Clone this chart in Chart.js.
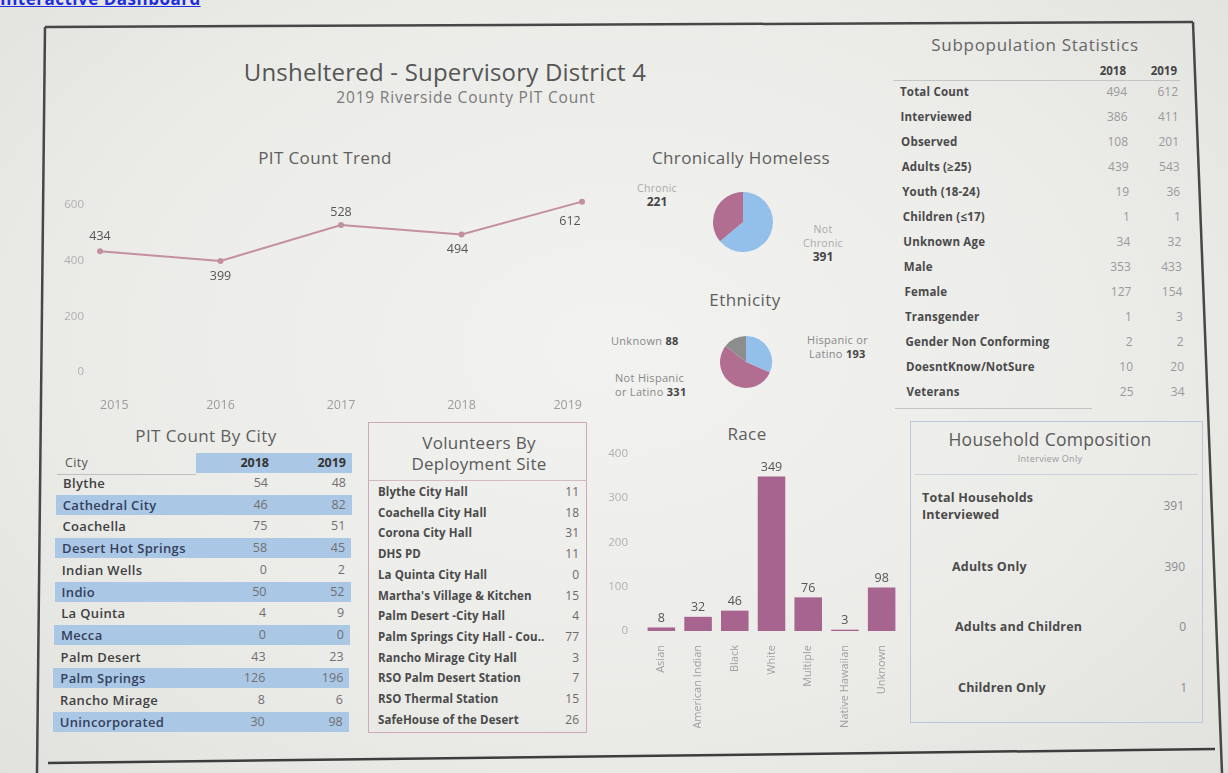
<!DOCTYPE html>
<html>
<head>
<meta charset="utf-8">
<script src="https://cdn.jsdelivr.net/npm/chart.js@4.4.1/dist/chart.umd.min.js"></script>
<style>
  html, body { margin: 0; padding: 0; }
  body {
    width: 1228px; height: 773px; overflow: hidden; position: relative;
    background: radial-gradient(ellipse at 50% 45%, #f2f2f0 0%, #ebebe8 60%, #e1e1de 100%);
    font-family: 'Open Sans', 'Noto Sans', sans-serif;
  }
  .t { position: absolute; white-space: nowrap; line-height: 1; }
  .c { transform: translate(-50%, -50%); }
  .l { transform: translate(0, -50%); }
  .r { transform: translate(-100%, -50%); }
  .box { position: absolute; box-sizing: border-box; }
  canvas { position: absolute; }
  #link { position: absolute; left: 0; top: -13px; color: #1f2fe0; font-weight: 700;
          font-size: 17px; text-decoration: underline; letter-spacing: 0.5px; }
</style>
</head>
<body>
<div id="link">Interactive Dashboard</div>
<svg width="1228" height="773" style="position:absolute;left:0;top:0">
  <line x1="45" y1="27" x2="1193" y2="22" stroke="#474747" stroke-width="2.5"/>
  <line x1="45" y1="27" x2="37" y2="773" stroke="#474747" stroke-width="2.5"/>
  <line x1="1193" y1="22" x2="1222" y2="773" stroke="#474747" stroke-width="2.5"/>
  <line x1="48" y1="763" x2="1215" y2="749" stroke="#3d3d3d" stroke-width="2.5"/>
</svg>
<div id="root"></div>
<canvas id="trend" width="560" height="225" style="left:40px;top:185px"></canvas>
<canvas id="chronic" width="62" height="62" style="left:712px;top:191px"></canvas>
<canvas id="ethnic" width="54" height="54" style="left:719px;top:335px"></canvas>
<canvas id="race" width="305" height="288" style="left:600px;top:440px"></canvas>
<script>
// values
const years = ['2015', '2016', '2017', '2018', '2019'];
const pitTotals = [434, 399, 528, 494, 612];

const chronicLabels = ['Not Chronic', 'Chronic'];
const chronicValues = [391, 221];

const ethnicityLabels = ['Hispanic or Latino', 'Not Hispanic or Latino', 'Unknown'];
const ethnicityValues = [193, 331, 88];

const raceLabels = ['Asian', 'American Indian', 'Black', 'White', 'Multiple', 'Native Hawaiian', 'Unknown'];
const raceValues = [8, 32, 46, 349, 76, 3, 98];

const cityNames = ['Blythe', 'Cathedral City', 'Coachella', 'Desert Hot Springs', 'Indian Wells', 'Indio',
  'La Quinta', 'Mecca', 'Palm Desert', 'Palm Springs', 'Rancho Mirage', 'Unincorporated'];
const city2018 = [54, 46, 75, 58, 0, 50, 4, 0, 43, 126, 8, 30];
const city2019 = [48, 82, 51, 45, 2, 52, 9, 0, 23, 196, 6, 98];

const siteNames = ['Blythe City Hall', 'Coachella City Hall', 'Corona City Hall', 'DHS PD', 'La Quinta City Hall',
  "Martha's Village & Kitchen", 'Palm Desert -City Hall', 'Palm Springs City Hall - Cou..',
  'Rancho Mirage City Hall', 'RSO Palm Desert Station', 'RSO Thermal Station', 'SafeHouse of the Desert'];
const siteVolunteers = [11, 18, 31, 11, 0, 15, 4, 77, 3, 7, 15, 26];

const subpopLabels = ['Total Count', 'Interviewed', 'Observed', 'Adults (\u226525)', 'Youth (18-24)', 'Children (\u226417)',
  'Unknown Age', 'Male', 'Female', 'Transgender', 'Gender Non Conforming', 'DoesntKnow/NotSure', 'Veterans'];
const subpop2018 = [494, 386, 108, 439, 19, 1, 34, 353, 127, 1, 2, 10, 25];
const subpop2019 = [612, 411, 201, 543, 36, 1, 32, 433, 154, 3, 2, 20, 34];

const householdLabels = [['Total Households', 'Interviewed'], ['Adults Only'], ['Adults and Children'], ['Children Only']];
const householdValues = [391, 390, 0, 1];

const MAUVE = '#b26e91';
const BLUE = '#92c0ea';
const GREY = '#8d8d8d';

const root = document.getElementById('root');
function txt(x, y, s, align, css) {
  const d = document.createElement('div');
  d.className = 't ' + (align || 'c');
  d.style.left = x + 'px';
  d.style.top = y + 'px';
  d.style.cssText += css || '';
  d.textContent = s;
  root.appendChild(d);
  return d;
}
function box(x, y, w, h, css) {
  const d = document.createElement('div');
  d.className = 'box';
  d.style.cssText = `left:${x}px;top:${y}px;width:${w}px;height:${h}px;` + (css || '');
  root.appendChild(d);
  return d;
}

const titleCss = 'font-size:17px;letter-spacing:0.4px;color:#5e5e5e;';

// header
txt(445, 72, 'Unsheltered - Supervisory District 4', 'c', 'font-size:24px;letter-spacing:0.2px;color:#555;');
txt(466, 98, '2019 Riverside County PIT Count', 'c', 'font-size:15.5px;letter-spacing:0.8px;color:#7a7a7a;');
txt(325, 157, 'PIT Count Trend', 'c', titleCss);
txt(741, 157, 'Chronically Homeless', 'c', titleCss);
txt(745, 299, 'Ethnicity', 'c', titleCss);
txt(747, 433, 'Race', 'c', titleCss);

// pie annotations
const small = 'font-size:10.5px;letter-spacing:0.3px;color:#aaa;';
const bold = 'font-size:12px;font-weight:700;color:#444;';
txt(657, 188, 'Chronic', 'c', small);
txt(657, 202, String(chronicValues[1]), 'c', bold);
txt(823, 229, 'Not', 'c', small);
txt(823, 243, 'Chronic', 'c', small);
txt(823, 257, String(chronicValues[0]), 'c', bold);
const ethLbl = 'font-size:11px;letter-spacing:0.3px;color:#888;';
txt(611, 340, '', 'l', ethLbl).innerHTML = `Unknown <b style="color:#444">${ethnicityValues[2]}</b>`;
txt(807, 339, 'Hispanic or', 'l', ethLbl);
txt(809, 353, '', 'l', ethLbl).innerHTML = `Latino <b style="color:#444">${ethnicityValues[0]}</b>`;
txt(615, 377, 'Not Hispanic', 'l', ethLbl);
txt(615, 391, '', 'l', ethLbl).innerHTML = `or Latino <b style="color:#444">${ethnicityValues[1]}</b>`;

// subpopulation statistics
txt(1035, 44, 'Subpopulation Statistics', 'c', 'font-size:17px;letter-spacing:0.7px;color:#666;');
txt(1126, 71, '2018', 'r', 'font-size:11.5px;font-weight:700;color:#444;');
txt(1177, 71, '2019', 'r', 'font-size:11.5px;font-weight:700;color:#444;');
box(893, 80, 287, 1, 'background:#c4c4c4;');
subpopLabels.forEach((lab, i) => {
  const y = 92 + i * 25;
  const dx = i * 0.55;
  txt(900 + dx, y, lab, 'l', 'font-size:11.5px;letter-spacing:0.2px;font-weight:700;color:#4a4a4a;');
  txt(1127 + dx, y, String(subpop2018[i]), 'r', 'font-size:12px;color:#9a9a9a;');
  txt(1178 + dx, y, String(subpop2019[i]), 'r', 'font-size:12px;color:#9a9a9a;');
});
box(895, 408, 197, 1, 'background:#c4c4c4;');

// PIT count by city
txt(206, 435, 'PIT Count By City', 'c', titleCss);
box(196, 453, 156, 20, 'background:#abc7e6;');
box(57, 474, 139, 1, 'background:#c0c0c0;');
txt(65, 463, 'City', 'l', 'font-size:12.5px;letter-spacing:0.3px;color:#555;');
txt(269, 463, '2018', 'r', 'font-size:12.5px;font-weight:700;color:#333;');
txt(346, 463, '2019', 'r', 'font-size:12.5px;font-weight:700;color:#333;');
cityNames.forEach((name, i) => {
  const y = 483 + i * 21.7;
  const dx = -i * 0.3;
  if (i % 2 === 1) box(56 + dx, y - 10, 296, 20, 'background:#abc7e6;');
  txt(63 + dx, y, name, 'l', 'font-size:13px;letter-spacing:0.35px;font-weight:600;color:' + (i % 2 ? '#33405a' : '#3f3f3f') + ';');
  txt(268 + dx, y, String(city2018[i]), 'r', 'font-size:12.5px;color:#707070;');
  txt(346 + dx, y, String(city2019[i]), 'r', 'font-size:12.5px;color:#707070;');
});

// volunteers by deployment site
box(368, 422, 219, 311, 'border:1.5px solid #cfa8b9;');
box(369, 480, 217, 1, 'background:#d3b9c4;');
txt(479, 442, 'Volunteers By', 'c', 'font-size:17px;letter-spacing:0.3px;color:#5a5a5a;');
txt(479, 463, 'Deployment Site', 'c', 'font-size:17px;letter-spacing:0.3px;color:#5a5a5a;');
siteNames.forEach((name, i) => {
  const y = 492 + i * 20.7;
  txt(378, y, name, 'l', 'font-size:11.5px;letter-spacing:0.1px;font-weight:700;color:#4a4a4a;');
  txt(579, y, String(siteVolunteers[i]), 'r', 'font-size:12px;color:#6a6a6a;');
});

// household composition
box(910, 421, 293, 302, 'border:1.5px solid #bac6dc;');
box(915, 474, 283, 1, 'background:#c8d0dd;');
txt(1050, 440, 'Household Composition', 'c', 'font-size:17.5px;letter-spacing:0.3px;color:#5a5a5a;');
txt(1050, 458, 'Interview Only', 'c', 'font-size:9px;letter-spacing:0.3px;color:#9a9a9a;');
const hhRows = [{ x: 922, y: 506 }, { x: 952, y: 567 }, { x: 955, y: 627 }, { x: 958, y: 688 }];
householdLabels.forEach((lines, i) => {
  const p = hhRows[i];
  lines.forEach((ln, k) => {
    const yy = lines.length > 1 ? p.y - 8.5 + k * 17 : p.y;
    txt(p.x, yy, ln, 'l', 'font-size:12.5px;letter-spacing:0.2px;font-weight:700;color:#4a4a4a;');
  });
  txt(1184 + i, p.y, String(householdValues[i]), 'r', 'font-size:12px;color:#8a8a8a;');
});

// charts
Chart.defaults.font.family = "'Open Sans', 'Noto Sans', sans-serif";
Chart.defaults.animation = false;
Chart.defaults.plugins.legend.display = false;
Chart.defaults.plugins.tooltip.enabled = false;

const trendLabels = {
  id: 'trendLabels',
  afterDatasetsDraw(chart) {
    const offs = [[0, -15], [0, 15], [0, -13], [-4, 15], [-12, 20]];
    const ctx = chart.ctx;
    ctx.save();
    ctx.font = "12.5px 'Open Sans'";
    ctx.fillStyle = '#555';
    ctx.textAlign = 'center';
    ctx.textBaseline = 'middle';
    chart.getDatasetMeta(0).data.forEach((pt, i) => {
      ctx.fillText(String(pitTotals[i]), pt.x + offs[i][0], pt.y + offs[i][1]);
    });
    ctx.restore();
  }
};

new Chart(document.getElementById('trend'), {
  type: 'line',
  data: {
    labels: years,
    datasets: [{
      data: pitTotals, borderColor: '#c3909f', backgroundColor: '#c3909f',
      borderWidth: 2, pointRadius: 2, tension: 0, clip: false
    }]
  },
  options: {
    responsive: false,
    layout: { padding: { top: 20, right: 13 } },
    scales: {
      x: {
        grid: { display: false }, border: { display: false },
        ticks: { align: 'inner', padding: 18, color: '#9c9c9c', font: { size: 12.5 } },
        afterFit: s => { s.height = 38; }
      },
      y: {
        min: 0, max: 600,
        grid: { display: false }, border: { display: false },
        ticks: { stepSize: 200, padding: 8, color: '#b0b0b0', font: { size: 11.5 } },
        afterFit: s => { s.width = 60; }
      }
    }
  },
  plugins: [trendLabels]
});

new Chart(document.getElementById('chronic'), {
  type: 'pie',
  data: { labels: chronicLabels, datasets: [{ data: chronicValues, backgroundColor: [BLUE, MAUVE], borderWidth: 0 }] },
  options: { responsive: false, layout: { padding: 1 } }
});

new Chart(document.getElementById('ethnic'), {
  type: 'pie',
  data: { labels: ethnicityLabels, datasets: [{ data: ethnicityValues, backgroundColor: [BLUE, MAUVE, GREY], borderWidth: 0 }] },
  options: { responsive: false, layout: { padding: 1 } }
});

const raceValueLabels = {
  id: 'raceValueLabels',
  afterDatasetsDraw(chart) {
    const ctx = chart.ctx;
    ctx.save();
    ctx.font = "12.5px 'Open Sans'";
    ctx.fillStyle = '#555';
    ctx.textAlign = 'center';
    ctx.textBaseline = 'bottom';
    chart.getDatasetMeta(0).data.forEach((bar, i) => {
      ctx.fillText(String(raceValues[i]), bar.x, bar.y - 3);
    });
    ctx.restore();
  }
};

new Chart(document.getElementById('race'), {
  type: 'bar',
  data: {
    labels: raceLabels,
    datasets: [{ data: raceValues, backgroundColor: '#a6648e', barPercentage: 0.75, categoryPercentage: 1 }]
  },
  options: {
    responsive: false,
    layout: { padding: { top: 10, right: 5 } },
    scales: {
      x: {
        grid: { display: false }, border: { display: false },
        ticks: { minRotation: 90, maxRotation: 90, padding: 6, color: '#a0a0a0', font: { size: 11 } },
        afterFit: s => { s.height = 97; }
      },
      y: {
        min: 0, max: 400,
        grid: { display: false }, border: { display: false },
        ticks: { stepSize: 100, padding: 7, color: '#b0b0b0', font: { size: 11.5 } },
        afterFit: s => { s.width = 43; }
      }
    }
  },
  plugins: [raceValueLabels]
});
</script>
</body>
</html>
